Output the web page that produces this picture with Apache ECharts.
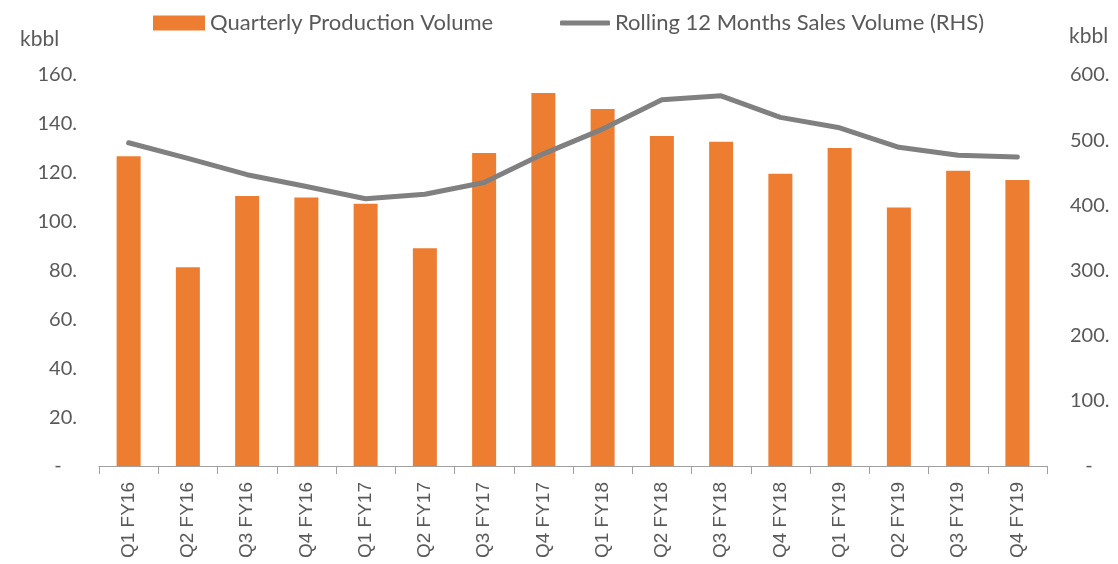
<!DOCTYPE html>
<html>
<head>
<meta charset="utf-8">
<script src="https://cdn.jsdelivr.net/npm/echarts@6/dist/echarts.min.js"></script>
<style>
    html, body { margin: 0; padding: 0; background: #fff; }
    #chart { width: 1118px; height: 564px; }
</style>
</head>
<body>
<div id="chart"></div>
<script>
const quarters = ["Q1 FY16", "Q2 FY16", "Q3 FY16", "Q4 FY16", "Q1 FY17", "Q2 FY17", "Q3 FY17", "Q4 FY17",
    "Q1 FY18", "Q2 FY18", "Q3 FY18", "Q4 FY18", "Q1 FY19", "Q2 FY19", "Q3 FY19", "Q4 FY19"];
// kbbl, left axis
const production = [126.8, 81.3, 110.5, 109.9, 107.3, 89.1, 128.1, 152.6,
    146.1, 135.0, 132.7, 119.6, 130.1, 105.8, 120.8, 117.0];
// kbbl, right axis
const rollingSales = [496, 472, 447, 429, 410, 417, 435, 479,
    517, 562, 568, 535, 519, 489, 477, 474];
const leftTicks = { min: 0, max: 160, interval: 20 };
const rightTicks = { min: 0, max: 600, interval: 100 };

const textColor = "#595959";
const font = "Lato, 'Open Sans', sans-serif";

let chart = echarts.init(document.getElementById("chart"));
let option = {
    animation: false,
    textStyle: { fontFamily: font },
    legend: [
        {
            left: 153, top: 12, padding: 0,
            itemWidth: 52, itemHeight: 15,
            data: [{ name: "Quarterly Production Volume", icon: "rect" }],
            textStyle: { color: textColor, fontSize: 22, fontFamily: font },
        },
        {
            left: 560, top: 12, padding: 0,
            itemWidth: 50, itemHeight: 5,
            data: [{ name: "Rolling 12 Months Sales Volume (RHS)", icon: "roundRect" }],
            textStyle: { color: textColor, fontSize: 22, fontFamily: font },
        },
    ],
    graphic: [
        { type: "text", left: 20, top: 29, style: { text: "kbbl", fill: textColor, font: "21px " + font } },
        { type: "text", left: 1069, top: 26, style: { text: "kbbl", fill: textColor, font: "21px " + font } },
    ],
    grid: { left: 99, right: 71, top: 75, bottom: 98 },
    xAxis: {
        type: "category",
        data: quarters,
        axisLine: { lineStyle: { color: "#a0a0a0", width: 1 } },
        axisTick: { show: true, length: 8, lineStyle: { color: "#a0a0a0" } },
        axisLabel: {
            rotate: 90,
            margin: 16,
            color: textColor,
            fontSize: 19,
            fontFamily: "'Liberation Sans', Arial, sans-serif",
        },
    },
    yAxis: [
        {
            type: "value",
            min: leftTicks.min, max: leftTicks.max, interval: leftTicks.interval,
            splitLine: { show: false },
            axisLine: { show: false },
            axisTick: { show: false },
            axisLabel: {
                margin: 22,
                color: textColor,
                fontSize: 20,
                formatter: (v) => (v === 0 ? "-   " : v + "."),
            },
        },
        {
            type: "value",
            min: rightTicks.min, max: rightTicks.max, interval: rightTicks.interval,
            splitLine: { show: false },
            axisLine: { show: false },
            axisTick: { show: false },
            axisLabel: {
                margin: 23,
                color: textColor,
                fontSize: 20,
                formatter: (v) => (v === 0 ? "   -" : v + "."),
            },
        },
    ],
    series: [
        {
            name: "Quarterly Production Volume",
            type: "bar",
            yAxisIndex: 0,
            barWidth: 24,
            itemStyle: { color: "#ed7d31" },
            data: production,
        },
        {
            name: "Rolling 12 Months Sales Volume (RHS)",
            type: "line",
            yAxisIndex: 1,
            symbol: "none",
            itemStyle: { color: "#808080" },
            lineStyle: { color: "#808080", width: 5, cap: "round", join: "round" },
            data: rollingSales,
        },
    ],
};
chart.setOption(option);
</script>
</body>
</html>
